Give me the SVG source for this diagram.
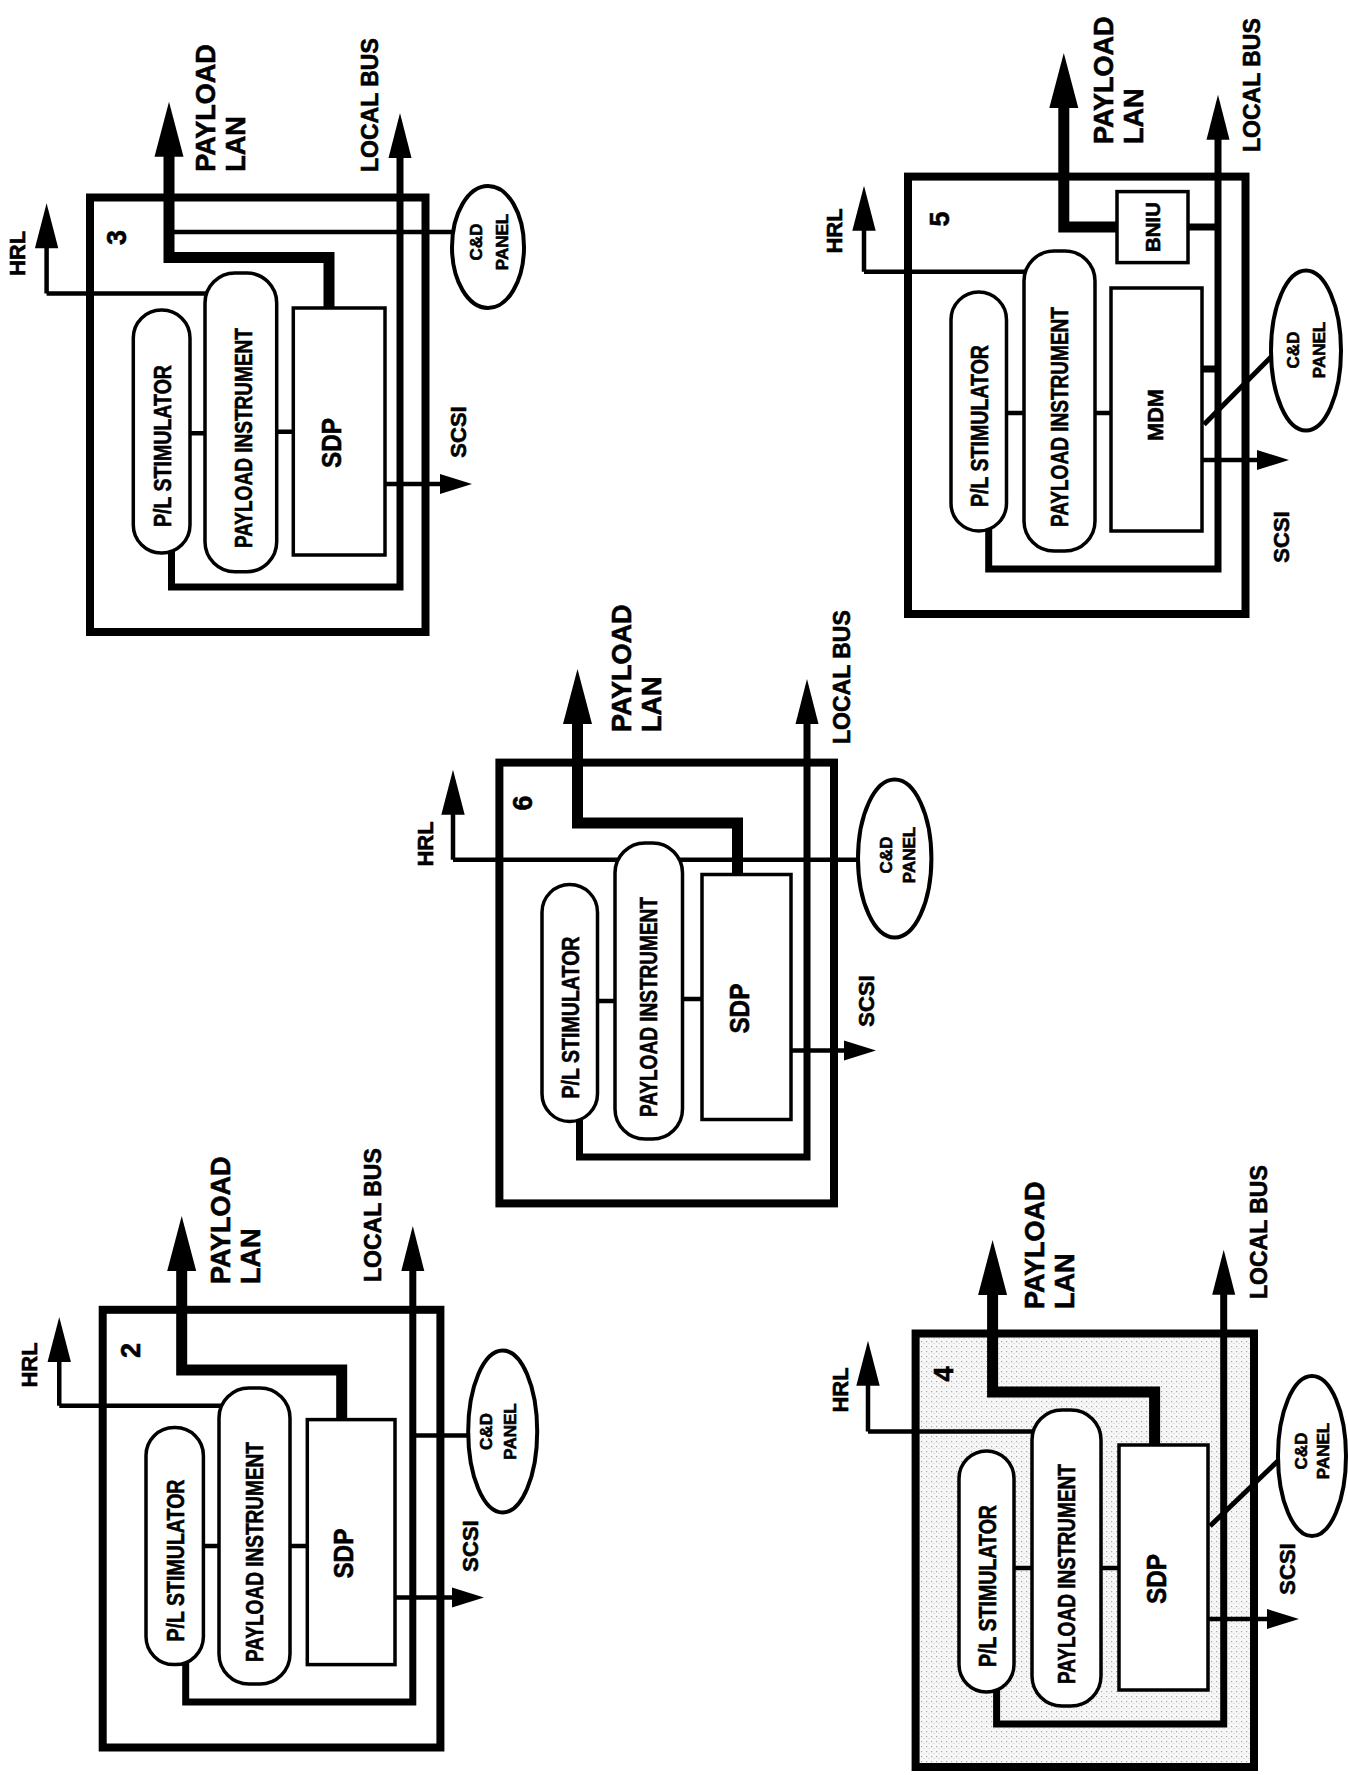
<svg xmlns="http://www.w3.org/2000/svg" xmlns:xlink="http://www.w3.org/1999/xlink" width="1348" height="1775" viewBox="0 0 1348 1775">
<style>
.box{fill:none;stroke:#000;stroke-width:8}
.thin{fill:none;stroke:#000;stroke-width:4.5}
.lan{fill:none;stroke:#000;stroke-width:11}
.bus{fill:none;stroke:#000;stroke-width:7}
.node{fill:#fff;stroke:#000;stroke-width:3.5}
.ell{fill:#fff;stroke:#000;stroke-width:4}
text{font-family:"Liberation Sans",Arial,sans-serif;font-weight:bold;fill:#000;stroke:#000;stroke-width:0.6}
.lbl{font-size:27px}
.lb{font-size:23px}
.sm{font-size:22px}
.stim{font-size:24px;text-anchor:middle}
.pi{font-size:23px;text-anchor:middle}
.cd{font-size:17px;text-anchor:middle}
.num{font-size:27px;text-anchor:middle}
.sdp{font-size:28px;text-anchor:middle}
.mid{text-anchor:middle}
</style>
<defs>
<polygon id="lanHead" points="0,0 -14.5,55 14.5,55" fill="#000"/>
<polygon id="busHead" points="0,0 -11.5,45 11.5,45" fill="#000"/>
<polygon id="hrlHead" points="0,0 -11.7,45 11.7,45" fill="#000"/>
<polygon id="scsiHead" points="0,0 -32,-10 -32,10" fill="#000"/>
<pattern id="stipple" width="5" height="5" patternUnits="userSpaceOnUse">
<rect width="5" height="5" fill="#f7f7f7"/>
<rect x="1" y="1" width="1.2" height="1.2" fill="#a8a8a8"/>
<rect x="3.5" y="3" width="1" height="1" fill="#cccccc"/>
</pattern>
</defs>
<rect width="1348" height="1775" fill="#fff"/>

<!-- PANEL 3 -->
<g id="panel3">
<g id="p3-frame"><rect class="box" x="90" y="197.5" width="335.5" height="434.5"/></g>
<g id="p3-connectors">
<path class="thin" d="M46.6,293.5 H210 M46.6,293.5 V240"/>
<use xlink:href="#hrlHead" x="46.6" y="203.3"/>
<path class="lan" d="M169,150 V257.5 H329 V310"/>
<use xlink:href="#lanHead" x="169" y="101.7"/>
<path class="thin" d="M174,232 H452"/>
<path class="bus" d="M400,150 V587 H171.5 V550"/>
<use xlink:href="#busHead" x="400" y="113"/>
<path class="thin" d="M385,484 H445 M190,433.3 H205 M276.7,431.7 H293.3"/>
<use xlink:href="#scsiHead" x="472" y="484"/>
</g>
<g id="p3-stim"><rect class="node" x="133.3" y="310" width="56.7" height="243" rx="28"/>
<text class="stim" transform="translate(171,446) rotate(-90)" textLength="162" lengthAdjust="spacingAndGlyphs">P/L STIMULATOR</text></g>
<g id="p3-instrument"><rect class="node" x="205" y="273" width="71.7" height="298.7" rx="30"/>
<text class="pi" transform="translate(251.5,438) rotate(-90)" textLength="220" lengthAdjust="spacingAndGlyphs">PAYLOAD INSTRUMENT</text></g>
<g id="p3-sdp"><rect class="node" x="293.3" y="308" width="91.7" height="247"/>
<text class="sdp" transform="translate(341,443) rotate(-90)" textLength="50" lengthAdjust="spacingAndGlyphs">SDP</text></g>
<g id="p3-cd"><ellipse class="ell" cx="488" cy="247" rx="36" ry="61"/>
<text class="cd" transform="translate(482,242) rotate(-90)">C&amp;D</text>
<text class="cd" transform="translate(508,242) rotate(-90)">PANEL</text></g>
<g id="p3-labels">
<text class="sm mid" transform="translate(25.3,253.5) rotate(-90)">HRL</text>
<text class="num" transform="translate(126.4,237.5) rotate(-90)">3</text>
<text class="lbl" transform="translate(215,171.7) rotate(-90)">PAYLOAD</text>
<text class="lbl" transform="translate(245,171.7) rotate(-90)">LAN</text>
<text class="lb" transform="translate(377.7,172) rotate(-90)">LOCAL BUS</text>
<text class="sm mid" transform="translate(466,432) rotate(-90)">SCSI</text>
</g>
</g>

<!-- PANEL 5 -->
<g id="panel5">
<g id="p5-frame"><rect class="box" x="908" y="176.6" width="337.5" height="437.4"/></g>
<g id="p5-connectors">
<path class="thin" d="M864,271.8 H1030 M864,271.8 V225"/>
<use xlink:href="#hrlHead" x="864" y="185.7"/>
<path class="lan" d="M1063.8,100 V227 H1117"/>
<use xlink:href="#lanHead" x="1063.8" y="53"/>
<path class="bus" d="M1188,227 H1218 M1202,369 H1218"/>
<path class="bus" d="M1218,135 V569 H988.7 V529"/>
<use xlink:href="#busHead" x="1218" y="94.8"/>
<path class="bus" d="M1204,424.6 L1274,354" style="stroke-width:5"/>
<path class="thin" d="M1202,460 H1265 M1006.5,413 H1024 M1095,413 H1111"/>
<use xlink:href="#scsiHead" x="1289" y="460"/>
</g>
<g id="p5-stim"><rect class="node" x="951" y="292" width="55.5" height="239" rx="27.7"/>
<text class="stim" transform="translate(987.5,426) rotate(-90)" textLength="162" lengthAdjust="spacingAndGlyphs">P/L STIMULATOR</text></g>
<g id="p5-instrument"><rect class="node" x="1024" y="251" width="71" height="300" rx="30"/>
<text class="pi" transform="translate(1068,417) rotate(-90)" textLength="220" lengthAdjust="spacingAndGlyphs">PAYLOAD INSTRUMENT</text></g>
<g id="p5-mdm"><rect class="node" x="1111" y="288" width="91" height="243"/>
<text class="sm mid" transform="translate(1163,415) rotate(-90)" textLength="52" lengthAdjust="spacingAndGlyphs">MDM</text></g>
<g id="p5-bniu"><rect class="node" x="1117" y="191.6" width="71" height="71"/>
<text class="mid" style="font-size:21px" transform="translate(1160,227) rotate(-90)" textLength="50" lengthAdjust="spacingAndGlyphs">BNIU</text></g>
<g id="p5-cd"><ellipse class="ell" cx="1306" cy="350.6" rx="35" ry="80"/>
<text class="cd" transform="translate(1299,350) rotate(-90)">C&amp;D</text>
<text class="cd" transform="translate(1324.5,350) rotate(-90)">PANEL</text></g>
<g id="p5-labels">
<text class="sm mid" transform="translate(842.2,231) rotate(-90)">HRL</text>
<text class="num" transform="translate(948.7,219) rotate(-90)">5</text>
<text class="lbl" transform="translate(1113,144) rotate(-90)">PAYLOAD</text>
<text class="lbl" transform="translate(1143,144) rotate(-90)">LAN</text>
<text class="lb" transform="translate(1259.6,152) rotate(-90)">LOCAL BUS</text>
<text class="sm mid" transform="translate(1289,537) rotate(-90)">SCSI</text>
</g>
</g>

<!-- PANEL 6 -->
<g id="panel6">
<g id="p6-frame"><rect class="box" x="499.4" y="762.6" width="334.6" height="440.8"/></g>
<g id="p6-connectors">
<path class="thin" d="M453,859.8 H860 M453,859.8 V805"/>
<use xlink:href="#hrlHead" x="453" y="769.7"/>
<path class="lan" d="M577.5,720 V823 H737.5 V876"/>
<use xlink:href="#lanHead" x="577.5" y="669"/>
<path class="bus" d="M807,720 V1157 H579.5 V1119"/>
<use xlink:href="#busHead" x="807" y="679"/>
<path class="thin" d="M791,1050.6 H850 M597.5,1001 H615 M682.5,999 H702"/>
<use xlink:href="#scsiHead" x="876" y="1050.6"/>
</g>
<g id="p6-stim"><rect class="node" x="542" y="884.5" width="55.5" height="237" rx="27.7"/>
<text class="stim" transform="translate(578.5,1017.5) rotate(-90)" textLength="162" lengthAdjust="spacingAndGlyphs">P/L STIMULATOR</text></g>
<g id="p6-instrument"><rect class="node" x="615" y="843" width="67.5" height="296" rx="30"/>
<text class="pi" transform="translate(657,1007) rotate(-90)" textLength="220" lengthAdjust="spacingAndGlyphs">PAYLOAD INSTRUMENT</text></g>
<g id="p6-sdp"><rect class="node" x="702" y="874.5" width="89" height="245"/>
<text class="sdp" transform="translate(749,1008.6) rotate(-90)" textLength="50" lengthAdjust="spacingAndGlyphs">SDP</text></g>
<g id="p6-cd"><ellipse class="ell" cx="894.7" cy="858.6" rx="36.7" ry="79"/>
<text class="cd" transform="translate(891.6,855) rotate(-90)">C&amp;D</text>
<text class="cd" transform="translate(915.3,855) rotate(-90)">PANEL</text></g>
<g id="p6-labels">
<text class="sm mid" transform="translate(433,844) rotate(-90)">HRL</text>
<text class="num" transform="translate(531.7,803) rotate(-90)">6</text>
<text class="lbl" transform="translate(631,732) rotate(-90)">PAYLOAD</text>
<text class="lbl" transform="translate(661,732) rotate(-90)">LAN</text>
<text class="lb" transform="translate(850,744) rotate(-90)">LOCAL BUS</text>
<text class="sm mid" transform="translate(874,1001) rotate(-90)">SCSI</text>
</g>
</g>

<!-- PANEL 2 -->
<g id="panel2">
<g id="p2-frame"><rect class="box" x="102.7" y="1309.8" width="337.7" height="437.7"/></g>
<g id="p2-connectors">
<path class="thin" d="M59.25,1405.8 H225 M59.25,1405.8 V1355"/>
<use xlink:href="#hrlHead" x="59.25" y="1317"/>
<path class="lan" d="M181.7,1265 V1370 H341.7 V1421"/>
<use xlink:href="#lanHead" x="181.7" y="1216"/>
<path class="bus" d="M412.8,1265 V1702 H185.7 V1663"/>
<use xlink:href="#busHead" x="412.8" y="1226"/>
<path class="thin" d="M412.8,1435.5 H470"/>
<path class="thin" d="M395,1597.4 H455 M203.4,1546 H219 M290,1546 H307.3"/>
<use xlink:href="#scsiHead" x="484" y="1597.4"/>
</g>
<g id="p2-stim"><rect class="node" x="146" y="1427.6" width="57.4" height="237" rx="28"/>
<text class="stim" transform="translate(183.5,1560.5) rotate(-90)" textLength="162" lengthAdjust="spacingAndGlyphs">P/L STIMULATOR</text></g>
<g id="p2-instrument"><rect class="node" x="219" y="1388" width="71" height="296" rx="30"/>
<text class="pi" transform="translate(263,1552) rotate(-90)" textLength="220" lengthAdjust="spacingAndGlyphs">PAYLOAD INSTRUMENT</text></g>
<g id="p2-sdp"><rect class="node" x="307.3" y="1419.6" width="87.7" height="245"/>
<text class="sdp" transform="translate(353.3,1553.6) rotate(-90)" textLength="50" lengthAdjust="spacingAndGlyphs">SDP</text></g>
<g id="p2-cd"><ellipse class="ell" cx="502.7" cy="1431.5" rx="34.5" ry="81"/>
<text class="cd" transform="translate(492,1431.5) rotate(-90)">C&amp;D</text>
<text class="cd" transform="translate(515.6,1431.5) rotate(-90)">PANEL</text></g>
<g id="p2-labels">
<text class="sm mid" transform="translate(37.1,1365) rotate(-90)">HRL</text>
<text class="num" transform="translate(140,1350.5) rotate(-90)">2</text>
<text class="lbl" transform="translate(229.5,1284) rotate(-90)">PAYLOAD</text>
<text class="lbl" transform="translate(259.5,1284) rotate(-90)">LAN</text>
<text class="lb" transform="translate(381,1282) rotate(-90)">LOCAL BUS</text>
<text class="sm mid" transform="translate(478,1546) rotate(-90)">SCSI</text>
</g>
</g>

<!-- PANEL 4 -->
<g id="panel4">
<g id="p4-frame"><rect x="915.6" y="1333.5" width="338.4" height="433.5" fill="url(#stipple)"/><rect class="box" x="915.6" y="1333.5" width="338.4" height="433.5"/></g>
<g id="p4-connectors">
<path class="thin" d="M868,1431.5 H1040 M868,1431.5 V1380"/>
<use xlink:href="#hrlHead" x="868" y="1340.7"/>
<path class="lan" d="M992.6,1290 V1392 H1154.6 V1447"/>
<use xlink:href="#lanHead" x="992.6" y="1240"/>
<path class="bus" d="M1223.7,1290 V1724 H996.6 V1690"/>
<use xlink:href="#busHead" x="1223.7" y="1249.8"/>
<path class="bus" d="M1210,1526 L1281,1458" style="stroke-width:5"/>
<path class="thin" d="M1208,1619 H1272 M1014,1568 H1032 M1101,1568 H1119"/>
<use xlink:href="#scsiHead" x="1299" y="1619"/>
</g>
<g id="p4-stim"><rect class="node" x="959" y="1451" width="55" height="241" rx="27.5"/>
<text class="stim" transform="translate(995.5,1586) rotate(-90)" textLength="162" lengthAdjust="spacingAndGlyphs">P/L STIMULATOR</text></g>
<g id="p4-instrument"><rect class="node" x="1032" y="1410" width="69" height="296" rx="30"/>
<text class="pi" transform="translate(1075,1574) rotate(-90)" textLength="220" lengthAdjust="spacingAndGlyphs">PAYLOAD INSTRUMENT</text></g>
<g id="p4-sdp"><rect class="node" x="1119" y="1445" width="89" height="245"/>
<text class="sdp" transform="translate(1166,1579) rotate(-90)" textLength="50" lengthAdjust="spacingAndGlyphs">SDP</text></g>
<g id="p4-cd"><ellipse class="ell" cx="1312" cy="1456" rx="34" ry="80"/>
<text class="cd" transform="translate(1306.7,1451) rotate(-90)">C&amp;D</text>
<text class="cd" transform="translate(1328.5,1451) rotate(-90)">PANEL</text></g>
<g id="p4-labels">
<text class="sm mid" transform="translate(848.1,1390) rotate(-90)">HRL</text>
<text class="num" transform="translate(952.7,1374) rotate(-90)">4</text>
<text class="lbl" transform="translate(1044,1309) rotate(-90)">PAYLOAD</text>
<text class="lbl" transform="translate(1074,1309) rotate(-90)">LAN</text>
<text class="lb" transform="translate(1267,1299) rotate(-90)">LOCAL BUS</text>
<text class="sm mid" transform="translate(1295,1569) rotate(-90)">SCSI</text>
</g>
</g>
</svg>
